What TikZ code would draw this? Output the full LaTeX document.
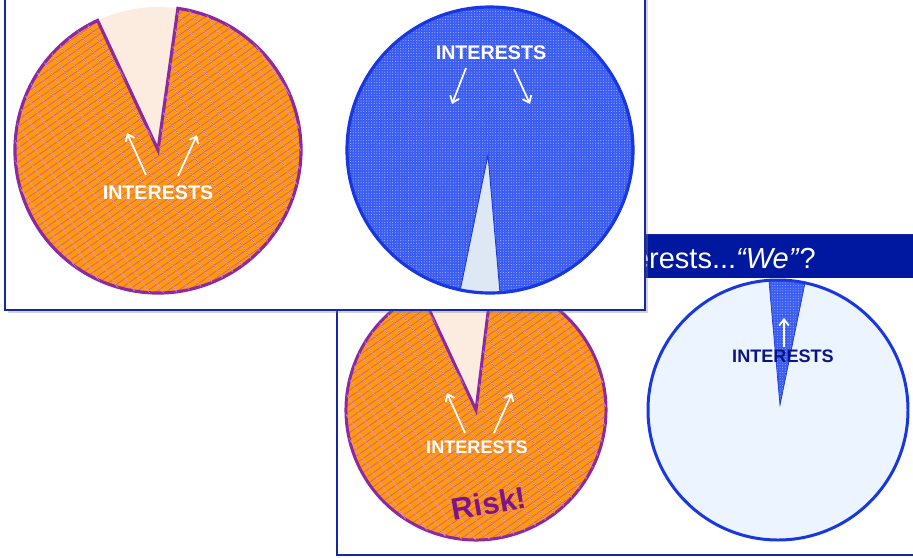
\documentclass[tikz,border=0pt]{standalone}
\usepackage{fontspec}
\setmainfont{Liberation Sans}
\usepackage{tikz}
\usepackage{xcolor}
\usetikzlibrary{math,patterns.meta,shadows,arrows.meta}

\definecolor{slideblue}{RGB}{22,40,160}
\definecolor{bannerblue}{RGB}{0,24,160}
\definecolor{pieorange}{RGB}{255,152,10}
\definecolor{piepurple}{RGB}{140,40,165}
\definecolor{brickline}{RGB}{205,100,140}
\definecolor{pieblue}{RGB}{58,92,242}
\definecolor{pieedge}{RGB}{25,55,225}
\definecolor{wedgepeach}{RGB}{252,236,224}
\definecolor{wedgegrey}{RGB}{222,232,244}
\definecolor{palesky}{RGB}{236,244,255}
\definecolor{navytext}{RGB}{10,20,130}
\definecolor{riskpurple}{RGB}{125,20,140}

\tikzset{
  brickfill/.style={preaction={fill=pieorange},
    pattern={Lines[angle=35,distance=3.3pt,line width=.45pt]},pattern color=brickline,
    postaction={pattern={Lines[angle=-55,distance=6.5pt,line width=.45pt]},pattern color=brickline}},
  dotfill/.style={preaction={fill=pieblue},
    pattern={Dots[distance=1.5pt,radius=.3pt]},pattern color=white!55!pieblue},
  slideframe/.style={draw=slideblue,line width=1.2pt},
  interests/.style={font=\fontsize{11.2}{13}\selectfont\bfseries,text=white,inner sep=0pt},
  pointer/.style={draw=white,line width=1pt,-{Straight Barb[length=3.5pt,width=5.5pt]}}
}

\begin{document}
\begin{tikzpicture}

\tikzmath{
\scale = 0.02;
}

\useasboundingbox (0,0) rectangle (913*\scale,-557*\scale);

% back slide
\draw[slideframe] (337*\scale,-235*\scale) rectangle (940*\scale,-555*\scale);
\fill[bannerblue] (337*\scale,-235*\scale) rectangle (940*\scale,-278*\scale);
\node[anchor=base east,text=white,inner sep=0pt,font=\fontsize{16.5}{18}\selectfont] (banner) at (816*\scale,-268*\scale) {erests...\textit{“We”}?};

% back slide, left pie
\coordinate (blc) at (476*\scale,-410*\scale);
\fill[wedgepeach] (blc) -- ++(83:130*\scale) arc[start angle=83,end angle=115,radius=130*\scale] -- cycle;
\draw[draw=piepurple,line width=1.7pt,brickfill] (blc) -- ++(115:130*\scale) arc[start angle=115,end angle=443,radius=130*\scale] -- cycle;
\node[interests,font=\fontsize{10.3}{12}\selectfont\bfseries] (bltext) at (477*\scale,-447*\scale) {INTERESTS};
\coordinate (bla1) at (465*\scale,-433*\scale);
\coordinate (bla2) at (447*\scale,-393*\scale);
\coordinate (bla3) at (494*\scale,-433*\scale);
\coordinate (bla4) at (512*\scale,-393*\scale);
\draw[pointer] (bla1) -- (bla2);
\draw[pointer] (bla3) -- (bla4);
\node[rotate=10,text=riskpurple,inner sep=0pt,font=\fontsize{17.5}{19}\selectfont\bfseries] (risk) at (489*\scale,-503*\scale) {Risk!};

% back slide, right pie
\coordinate (brc) at (778*\scale,-410*\scale);
\fill[palesky] (brc) circle(130*\scale);
\draw[draw=pieedge,line width=.4pt,dotfill] (780*\scale,-405*\scale) -- ([shift={(78:130*\scale)}]brc) arc[start angle=78,end angle=94,radius=130*\scale] -- cycle;
\draw[draw=pieedge,line width=1.7pt] (brc) circle(130*\scale);
\node[interests,text=navytext,font=\fontsize{10.3}{12}\selectfont\bfseries] (brtext) at (783*\scale,-356*\scale) {INTERESTS};
\coordinate (bra1) at (784*\scale,-347*\scale);
\coordinate (bra2) at (784*\scale,-318*\scale);
\draw[pointer] (bra1) -- (bra2);

% front slide
\draw[slideframe,fill=white,drop shadow={opacity=.35,shadow xshift=1.5pt,shadow yshift=-1.5pt}] (5*\scale,10*\scale) rectangle (645*\scale,-310*\scale);

% front slide, left pie
\coordinate (tlc) at (158*\scale,-150*\scale);
\fill[wedgepeach] (tlc) -- ++(82:143*\scale) arc[start angle=82,end angle=115,radius=143*\scale] -- cycle;
\draw[draw=piepurple,line width=1.8pt,brickfill] (tlc) -- ++(115:143*\scale) arc[start angle=115,end angle=442,radius=143*\scale] -- cycle;
\node[interests] (tltext) at (158*\scale,-193*\scale) {INTERESTS};
\coordinate (tla1) at (146*\scale,-175*\scale);
\coordinate (tla2) at (127*\scale,-133*\scale);
\coordinate (tla3) at (178*\scale,-176*\scale);
\coordinate (tla4) at (197*\scale,-135*\scale);
\draw[pointer] (tla1) -- (tla2);
\draw[pointer] (tla3) -- (tla4);

% front slide, right pie
\coordinate (trc) at (490*\scale,-150*\scale);
\fill[dotfill] (trc) circle(143*\scale);
\draw[draw=pieedge,line width=.5pt,fill=wedgegrey] (488*\scale,-155*\scale) -- ([shift={(258:143*\scale)}]trc) arc[start angle=258,end angle=274,radius=143*\scale] -- cycle;
\draw[draw=pieedge,line width=1.8pt] (trc) circle(143*\scale);
\node[interests] (trtext) at (491*\scale,-53*\scale) {INTERESTS};
\coordinate (tra1) at (466*\scale,-68*\scale);
\coordinate (tra2) at (452*\scale,-104*\scale);
\coordinate (tra3) at (514*\scale,-69*\scale);
\coordinate (tra4) at (530*\scale,-104*\scale);
\draw[pointer] (tra1) -- (tra2);
\draw[pointer] (tra3) -- (tra4);

\end{tikzpicture}
\end{document}
